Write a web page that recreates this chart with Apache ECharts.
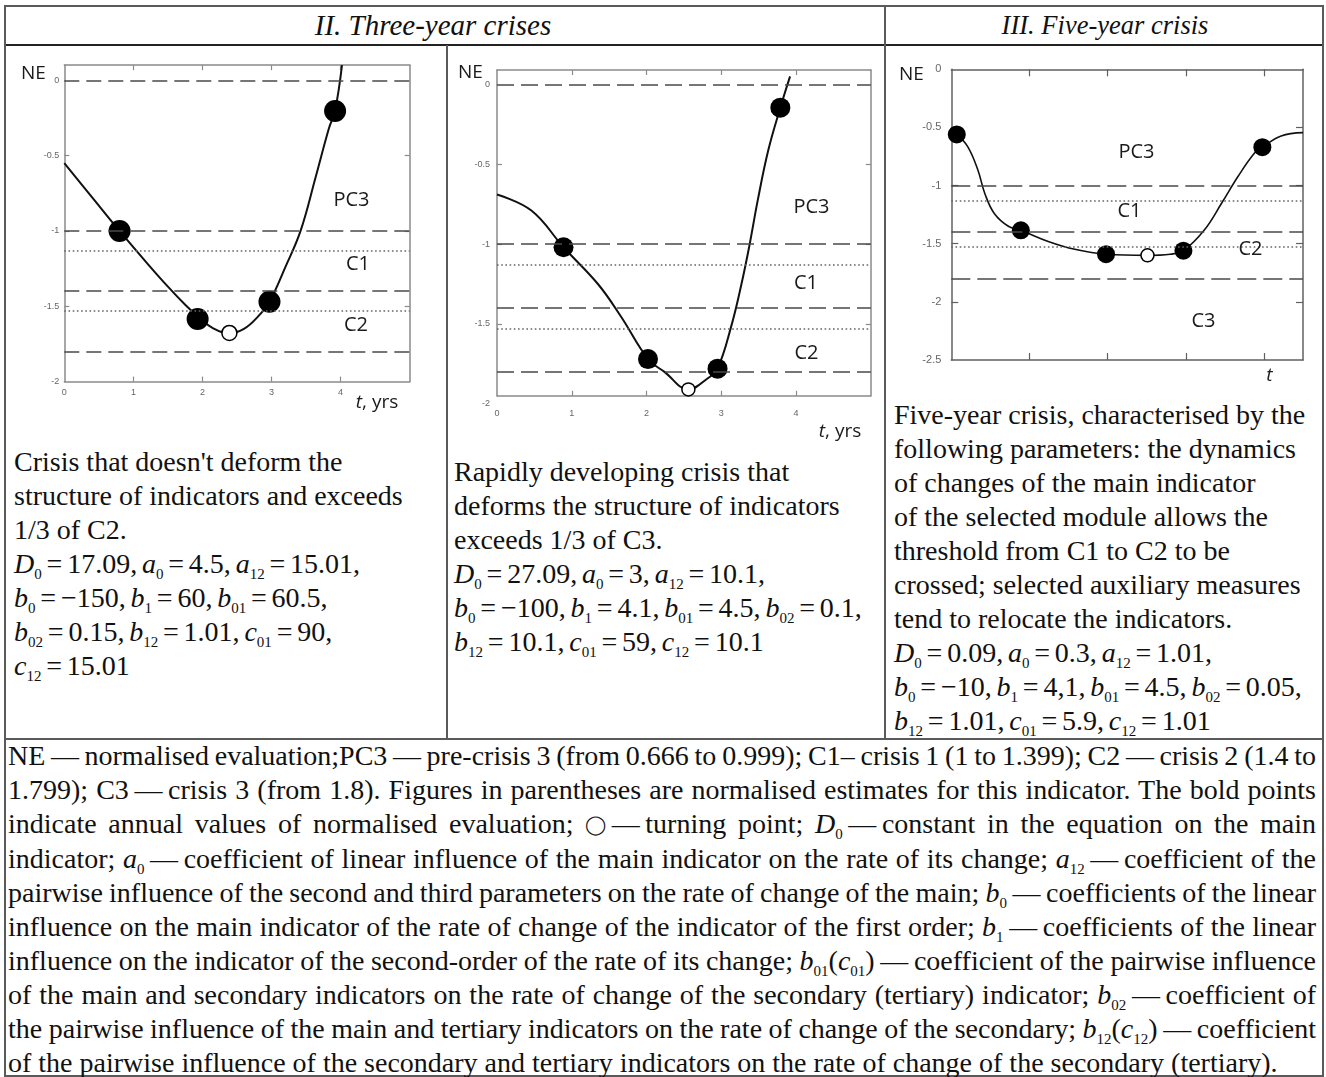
<!DOCTYPE html>
<html><head><meta charset="utf-8">
<script src="https://cdn.jsdelivr.net/npm/echarts@6/dist/echarts.min.js"></script>
<style>
html,body{margin:0;padding:0;background:#fff;}
#page{position:relative;width:1326px;height:1077px;overflow:hidden;font-family:"Liberation Serif","Times New Roman",serif;color:#111;}
.ln{position:absolute;background:#5a5a5a;}
.txt{position:absolute;font-size:28px;line-height:34px;white-space:nowrap;}
.eq{word-spacing:-2.2px;}
sub{font-size:15px;line-height:0;vertical-align:-6px;}
.hdr{position:absolute;font-style:italic;text-align:center;line-height:39px;top:6px;white-space:nowrap;}
.para{position:absolute;left:8px;width:1308px;top:739px;font-size:28px;line-height:34px;}
.para div{white-space:nowrap;}
.circ{font-size:19px;vertical-align:2px;}
#chart{position:absolute;left:0;top:0;width:1326px;height:1077px;}
</style></head>
<body>
<div id="page">
  <div class="ln" style="left:4px;top:5px;width:1320px;height:2px"></div>
  <div class="ln" style="left:4px;top:44px;width:1320px;height:2px;background:#222"></div>
  <div class="ln" style="left:4px;top:738px;width:1320px;height:2px"></div>
  <div class="ln" style="left:4px;top:1075px;width:1320px;height:2px"></div>
  <div class="ln" style="left:4px;top:5px;width:2px;height:1072px"></div>
  <div class="ln" style="left:1322px;top:5px;width:2px;height:1072px"></div>
  <div class="ln" style="left:446px;top:45px;width:2px;height:694px"></div>
  <div class="ln" style="left:884px;top:5px;width:2px;height:734px"></div>

  <div class="hdr" style="left:0px;width:866px;font-size:29px">II. Three-year crises</div>
  <div class="hdr" style="left:885px;width:440px;font-size:26.5px">III. Five-year crisis</div>

  <div class="txt" style="left:14px;top:445px">
    Crisis that doesn't deform the<br>
    structure of indicators and exceeds<br>
    1/3 of C2.<br>
    <span class="eq"><i>D</i><sub>0</sub> = 17.09, <i>a</i><sub>0</sub> = 4.5, <i>a</i><sub>12</sub> = 15.01,</span><br>
    <span class="eq"><i>b</i><sub>0</sub> = −150, <i>b</i><sub>1</sub> = 60, <i>b</i><sub>01</sub> = 60.5,</span><br>
    <span class="eq"><i>b</i><sub>02</sub> = 0.15, <i>b</i><sub>12</sub> = 1.01, <i>c</i><sub>01</sub> = 90,</span><br>
    <span class="eq"><i>c</i><sub>12</sub> = 15.01</span>
  </div>
  <div class="txt" style="left:454px;top:455px">
    Rapidly developing crisis that<br>
    deforms the structure of indicators<br>
    exceeds 1/3 of C3.<br>
    <span class="eq"><i>D</i><sub>0</sub> = 27.09, <i>a</i><sub>0</sub> = 3, <i>a</i><sub>12</sub> = 10.1,</span><br>
    <span class="eq"><i>b</i><sub>0</sub> = −100, <i>b</i><sub>1</sub> = 4.1, <i>b</i><sub>01</sub> = 4.5, <i>b</i><sub>02</sub> = 0.1,</span><br>
    <span class="eq"><i>b</i><sub>12</sub> = 10.1, <i>c</i><sub>01</sub> = 59, <i>c</i><sub>12</sub> = 10.1</span>
  </div>
  <div class="txt" style="left:894px;top:398px">
    Five-year crisis, characterised by the<br>
    following parameters: the dynamics<br>
    of changes of the main indicator<br>
    of the selected module allows the<br>
    threshold from C1 to C2 to be<br>
    crossed; selected auxiliary measures<br>
    tend to relocate the indicators.<br>
    <span class="eq"><i>D</i><sub>0</sub> = 0.09, <i>a</i><sub>0</sub> = 0.3, <i>a</i><sub>12</sub> = 1.01,</span><br>
    <span class="eq"><i>b</i><sub>0</sub> = −10, <i>b</i><sub>1</sub> = 4,1, <i>b</i><sub>01</sub> = 4.5, <i>b</i><sub>02</sub> = 0.05,</span><br>
    <span class="eq"><i>b</i><sub>12</sub> = 1.01, <i>c</i><sub>01</sub> = 5.9, <i>c</i><sub>12</sub> = 1.01</span>
  </div>
  <div class="para">
    <div><span class="j">NE&#8201;—&#8201;normalised evaluation;PC3&#8201;—&#8201;pre-crisis 3 (from 0.666 to 0.999); C1– crisis 1 (1 to 1.399); C2&#8201;—&#8201;crisis 2 (1.4 to</span></div>
    <div><span class="j">1.799); C3&#8201;—&#8201;crisis 3 (from 1.8). Figures in parentheses are normalised estimates for this indicator. The bold points</span></div>
    <div><span class="j">indicate annual values of normalised evaluation; <span class="circ">◯</span>&#8201;—&#8201;turning point; <i>D</i><sub>0</sub>&#8201;—&#8201;constant in the equation on the main</span></div>
    <div><span class="j">indicator; <i>a</i><sub>0</sub>&#8201;—&#8201;coefficient of linear influence of the main indicator on the rate of its change; <i>a</i><sub>12</sub>&#8201;—&#8201;coefficient of the</span></div>
    <div><span class="j">pairwise influence of the second and third parameters on the rate of change of the main; <i>b</i><sub>0</sub>&#8201;—&#8201;coefficients of the linear</span></div>
    <div><span class="j">influence on the main indicator of the rate of change of the indicator of the first order; <i>b</i><sub>1</sub>&#8201;—&#8201;coefficients of the linear</span></div>
    <div><span class="j">influence on the indicator of the second-order of the rate of its change; <i>b</i><sub>01</sub>(<i>c</i><sub>01</sub>)&#8201;—&#8201;coefficient of the pairwise influence</span></div>
    <div><span class="j">of the main and secondary indicators on the rate of change of the secondary (tertiary) indicator; <i>b</i><sub>02</sub>&#8201;—&#8201;coefficient of</span></div>
    <div><span class="j">the pairwise influence of the main and tertiary indicators on the rate of change of the secondary; <i>b</i><sub>12</sub>(<i>c</i><sub>12</sub>)&#8201;—&#8201;coefficient</span></div>
    <div><span class="last">of the pairwise influence of the secondary and tertiary indicators on the rate of change of the secondary (tertiary).</span></div>
  </div>
  <div id="chart"></div>
</div>
<script>
// ---------- DATA ----------
// Chart 1: three-year crisis not deforming the structure
const c1CurveT  = [0, 0.4, 0.8, 1.2, 1.5, 1.75, 1.95, 2.15, 2.38, 2.6, 2.8, 2.97, 3.2, 3.42, 3.64, 3.83, 3.92, 4.02];
const c1CurveNE = [-0.55, -0.775, -1.0, -1.215, -1.37, -1.49, -1.575, -1.645, -1.68, -1.65, -1.57, -1.47, -1.24, -1.0, -0.64, -0.32, -0.2, 0.1];
const c1PointT  = [0.8, 1.93, 2.97, 3.92];
const c1PointNE = [-1.0, -1.584, -1.47, -0.204];
const c1TurnT   = [2.39];
const c1TurnNE  = [-1.677];

// Chart 2: rapidly developing crisis
const c2CurveT  = [0, 0.46, 0.89, 1.35, 1.66, 2.02, 2.24, 2.56, 2.82, 2.95, 3.13, 3.27, 3.38, 3.49, 3.63, 3.79, 3.92];
const c2CurveNE = [-0.69, -0.79, -1.02, -1.25, -1.455, -1.72, -1.8, -1.91, -1.84, -1.78, -1.52, -1.25, -1.0, -0.72, -0.41, -0.146, 0.05];
const c2PointT  = [0.89, 2.02, 2.95, 3.79];
const c2PointNE = [-1.02, -1.72, -1.78, -0.146];
const c2TurnT   = [2.56];
const c2TurnNE  = [-1.91];

// Chart 3: five-year crisis
const c3CurveT  = [0.07, 0.21, 0.34, 0.43, 0.55, 0.73, 0.89, 1.24, 1.58, 1.98, 2.51, 2.8, 2.97, 3.24, 3.46, 3.67, 3.88, 3.98, 4.22, 4.5];
const c3CurveNE = [-0.56, -0.665, -0.866, -1.07, -1.24, -1.35, -1.385, -1.48, -1.548, -1.59, -1.6, -1.59, -1.56, -1.38, -1.15, -0.92, -0.72, -0.67, -0.573, -0.545];
const c3PointT  = [0.07, 0.89, 1.98, 2.97, 3.98];
const c3PointNE = [-0.56, -1.385, -1.59, -1.56, -0.67];
const c3TurnT   = [2.51];
const c3TurnNE  = [-1.6];

// threshold levels (NE)
const dashedLevels12 = [0, -1, -1.4, -1.8];
const dashedLevels3  = [-1, -1.4, -1.8];
const dottedLevels   = [-1.133, -1.533];

// axis tick labels
const xTicks12   = [0, 1, 2, 3, 4];
const yTicks1    = [0, -0.5, -1, -1.5, -2];
const yTicks2    = [0, -0.5, -1, -1.5];
const yTicks3    = [0, -0.5, -1, -1.5, -2, -2.5];
const xTicks3    = [1, 2, 3, 4];

// ---------- justify the footnote lines exactly ----------
const paraWidth = 1308;
document.querySelectorAll('.para .j').forEach(el => {
  el.style.wordSpacing = '0px';
  const w = el.getBoundingClientRect().width;
  const n = (el.textContent.match(/ /g) || []).length;
  if (n) el.style.wordSpacing = ((paraWidth - w) / n) + 'px';
});

// ---------- CHART ----------
const zip = (a, b) => a.map((v, i) => [v, b[i]]);
const chart = echarts.init(document.getElementById('chart'), null, {renderer: 'canvas'});

const grids = [
  {left: 64.3, top: 65.2, width: 345.4, height: 316.4},
  {left: 497, top: 70, width: 373.8, height: 325.8},
  {left: 951.3, top: 69.3, width: 351.7, height: 290.7}
];
const frameCol = ['#8a8a8a', '#8a8a8a', '#606060'];
const ranges = [
  {x: [0, 5], y: [-2, 0.1]},
  {x: [0, 5], y: [-1.95, 0.09]},
  {x: [0, 4.5], y: [-2.5, 0]}
];
const xTickVals = [[1,2,3,4],[1,2,3,4],xTicks3];
const xLabelVals = [xTicks12, xTicks12, null];
const yTickVals = [[-0.5,-1,-1.5],[-0.5,-1,-1.5],[-0.5,-1,-1.5,-2]];
const yLabelVals = [yTicks1, yTicks2, yTicks3];
const tickLen = [5, 5, 7];
const yLabelMargin = [5, 7, 10];
const xLabelMargin = [6, 13, 8];
const labelFont = [9, 9, 11];

const xAxis = [], yAxis = [];
grids.forEach((g, i) => {
  const axLine = {show: true, onZero: false, lineStyle: {color: frameCol[i], width: 1.5}};
  const tick = (vals) => ({show: true, inside: true, length: tickLen[i], customValues: vals, lineStyle: {color: frameCol[i], width: 1.2}});
  xAxis.push({
    gridIndex: i, type: 'value', position: 'bottom', min: ranges[i].x[0], max: ranges[i].x[1],
    axisLine: axLine, axisTick: tick(xTickVals[i]), splitLine: {show: false},
    axisLabel: xLabelVals[i] ? {show: true, customValues: xLabelVals[i], fontSize: labelFont[i], color: '#666',
      margin: xLabelMargin[i], fontFamily: 'Liberation Sans'} : {show: false}
  });
  xAxis.push({
    gridIndex: i, type: 'value', position: 'top', min: ranges[i].x[0], max: ranges[i].x[1],
    axisLine: axLine, axisTick: tick(xTickVals[i]), splitLine: {show: false}, axisLabel: {show: false}
  });
  yAxis.push({
    gridIndex: i, type: 'value', position: 'left', min: ranges[i].y[0], max: ranges[i].y[1],
    axisLine: axLine, axisTick: tick(yTickVals[i]), splitLine: {show: false},
    axisLabel: {show: true, customValues: yLabelVals[i], fontSize: labelFont[i], color: '#666',
      margin: yLabelMargin[i], fontFamily: 'Liberation Sans'}
  });
  yAxis.push({
    gridIndex: i, type: 'value', position: 'right', min: ranges[i].y[0], max: ranges[i].y[1],
    axisLine: axLine, axisTick: tick(yTickVals[i]), splitLine: {show: false}, axisLabel: {show: false}
  });
});

const chartData = [
  {curve: zip(c1CurveT, c1CurveNE), pts: zip(c1PointT, c1PointNE), turn: zip(c1TurnT, c1TurnNE), dashed: dashedLevels12, dot: 22, open: 15, lw: 2, dash: [15, 7]},
  {curve: zip(c2CurveT, c2CurveNE), pts: zip(c2PointT, c2PointNE), turn: zip(c2TurnT, c2TurnNE), dashed: dashedLevels12, dot: 20, open: 13, lw: 2, dash: [17, 7]},
  {curve: zip(c3CurveT, c3CurveNE), pts: zip(c3PointT, c3PointNE), turn: zip(c3TurnT, c3TurnNE), dashed: dashedLevels3, dot: 18, open: 13, lw: 1.6, dash: [19, 7]}
];

const series = [];
chartData.forEach((d, i) => {
  series.push({
    type: 'line', xAxisIndex: 2 * i, yAxisIndex: 2 * i, data: [], silent: true, z: 1,
    markLine: {
      silent: true, symbol: ['none', 'none'], label: {show: false}, animation: false,
      data: d.dashed.map(v => ({yAxis: v, lineStyle: {type: d.dash, color: '#4a4a4a', width: 1.6}}))
        .concat(dottedLevels.map(v => ({yAxis: v, lineStyle: {type: [1.6, 2.6], color: '#666', width: 1.6}})))
    }
  });
  series.push({
    type: 'line', xAxisIndex: 2 * i, yAxisIndex: 2 * i, data: d.curve, smooth: 0.4,
    symbol: 'none', lineStyle: {color: '#111', width: d.lw}, z: 3, silent: true, animation: false
  });
  series.push({
    type: 'scatter', xAxisIndex: 2 * i, yAxisIndex: 2 * i, data: d.pts, symbol: 'circle',
    symbolSize: d.dot, itemStyle: {color: '#000', opacity: 1}, z: 4, silent: true, animation: false
  });
  series.push({
    type: 'scatter', xAxisIndex: 2 * i, yAxisIndex: 2 * i, data: d.turn, symbol: 'circle',
    symbolSize: d.open, itemStyle: {color: '#fff', borderColor: '#000', borderWidth: 1.5, opacity: 1}, z: 5, silent: true, animation: false
  });
});

const sans = '"Open Sans", "Liberation Sans", sans-serif';
function txt(id, text, x, y, size, opts) {
  return {
    type: 'text', id: id, x: x, y: y, silent: true, z: 10,
    style: Object.assign({text: text, font: size + 'px ' + sans, fill: '#1a1a1a', align: 'center', verticalAlign: 'middle'}, (opts || {}))
  };
}
const graphic = [
  txt('ne1', 'NE', 33.5, 74, 19),
  txt('pc31', 'PC3', 351.5, 200, 20),
  txt('c11', 'C1', 358, 264.5, 20),
  txt('c21', 'C2', 356, 325, 20),
  txt('t1', '{i|t}, yrs', 377, 403, 19, {rich: {i: {font: 'italic 19px ' + sans}}}),
  txt('ne2', 'NE', 470.5, 72.5, 19),
  txt('pc32', 'PC3', 811.5, 207.5, 20),
  txt('c12', 'C1', 806, 283.5, 20),
  txt('c22', 'C2', 806.5, 353.5, 20),
  txt('t2', '{i|t}, yrs', 840, 432, 19, {rich: {i: {font: 'italic 19px ' + sans}}}),
  txt('ne3', 'NE', 911.5, 74.5, 19),
  txt('pc33', 'PC3', 1136.5, 152.5, 20),
  txt('c13', 'C1', 1129.5, 211.5, 20),
  txt('c23', 'C2', 1250.5, 249.5, 20),
  txt('c33', 'C3', 1203.5, 321.5, 20),
  txt('t3', 't', 1269.5, 376, 19, {font: 'italic 19px ' + sans})
];

chart.setOption({
  animation: false,
  backgroundColor: 'transparent',
  grid: grids,
  xAxis: xAxis,
  yAxis: yAxis,
  series: series,
  graphic: graphic
});

// "-2" label of chart 2 sits just below its (slightly cropped) frame
const p = chart.convertToPixel({xAxisIndex: 2, yAxisIndex: 2}, [0, -2]);
chart.setOption({graphic: [{
  type: 'text', id: 'm2', x: p[0] - yLabelMargin[1], y: p[1], silent: true,
  style: {text: String(-2), font: '9px "Liberation Sans"', fill: '#666', align: 'right', verticalAlign: 'middle'}
}]});
</script>
</body></html>
